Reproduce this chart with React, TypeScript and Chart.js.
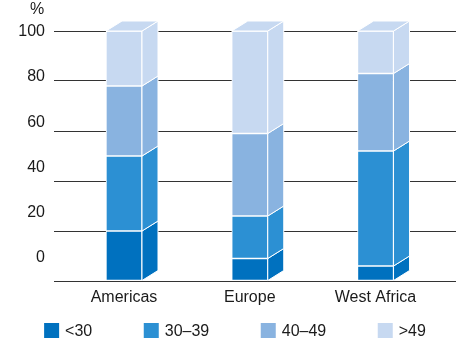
import React, { useEffect, useRef } from "react";
import { Chart, registerables } from "chart.js";

Chart.register(...registerables);

const categories = ["Americas", "Europe", "West Africa"];
const seriesLabels = ["<30", "30–39", "40–49", ">49"];
const under30 = [20, 9, 6];
const from30to39 = [30, 17, 46];
const from40to49 = [28, 33, 31];
const over49 = [22, 41, 17];
const seriesColors = ["#0071BF", "#2C90D3", "#89B3E0", "#C7D9F1"];
const yTicks = [0, 20, 40, 60, 80, 100];
const unitLabel = "%";

const FONT = "Arial, 'Liberation Sans', sans-serif";
const TEXT = "#1a1a1a";

const depthPlugin = {
  id: "depth3d",
  afterDatasetsDraw(chart: any) {
    const ctx = chart.ctx;
    const dx = 16;
    const dy = 10;
    const n = chart.data.datasets.length;
    ctx.save();
    ctx.strokeStyle = "#ffffff";
    ctx.lineWidth = 1;
    ctx.lineJoin = "miter";
    chart.data.datasets.forEach((ds: any, di: number) => {
      const meta = chart.getDatasetMeta(di);
      meta.data.forEach((bar: any) => {
        const { x, y, base, width } = bar.getProps(["x", "y", "base", "width"], true);
        const l = x - width / 2;
        const r = x + width / 2;
        const top = Math.min(y, base);
        const bottom = Math.max(y, base);
        ctx.fillStyle = ds.backgroundColor;
        ctx.beginPath();
        ctx.moveTo(r, bottom);
        ctx.lineTo(r + dx, bottom - dy);
        ctx.lineTo(r + dx, top - dy);
        ctx.lineTo(r, top);
        ctx.closePath();
        ctx.fill();
        ctx.stroke();
        if (di === n - 1) {
          ctx.beginPath();
          ctx.moveTo(l, top);
          ctx.lineTo(l + dx, top - dy);
          ctx.lineTo(r + dx, top - dy);
          ctx.lineTo(r, top);
          ctx.closePath();
          ctx.fill();
          ctx.stroke();
        }
      });
    });
    ctx.restore();
  },
};

const legendPlugin = {
  id: "boxLegend",
  afterDraw(chart: any) {
    const ctx = chart.ctx;
    ctx.save();
    ctx.font = "16px " + FONT;
    ctx.textBaseline = "middle";
    ctx.textAlign = "left";
    const box = 15;
    const gapText = 6;
    const gapItem = 51.5;
    const items = chart.data.datasets.map((ds: any) => ({
      text: ds.label,
      color: ds.backgroundColor,
      w: box + gapText + ctx.measureText(ds.label).width,
    }));
    const total = items.reduce((s: number, it: any) => s + it.w, 0) + gapItem * (items.length - 1);
    let x = chart.width / 2 + 3 - total / 2;
    const cy = chart.height - 10.5;
    items.forEach((it: any) => {
      ctx.fillStyle = it.color;
      ctx.fillRect(x, cy - box / 2, box, box);
      ctx.fillStyle = TEXT;
      ctx.fillText(it.text, x + box + gapText, cy + 1);
      x += it.w + gapItem;
    });
    const area = chart.chartArea;
    ctx.textAlign = "center";
    ctx.fillText(unitLabel, area.left - 17, area.top - 21);
    ctx.restore();
  },
};

export default function App() {
  const ref = useRef<HTMLCanvasElement>(null);
  useEffect(() => {
    document.body.style.margin = "0";
    const canvas = ref.current!;
    const chart = new Chart(canvas, {
      type: "bar",
      data: {
        datasets: [under30, from30to39, from40to49, over49].map((vals, si) => ({
          label: seriesLabels[si],
          data: vals.map((v, i) => ({ x: i, y: v })),
          backgroundColor: seriesColors[si],
          borderColor: "#ffffff",
          borderWidth: 1,
          borderSkipped: false,
          barThickness: 36,
        })),
      },
      options: {
        animation: false,
        responsive: false,
        devicePixelRatio: 1,
        layout: { padding: { top: 31, right: 8, bottom: 34, left: 12 } },
        plugins: { legend: { display: false }, tooltip: { enabled: false } },
        scales: {
          x: {
            type: "linear",
            stacked: true,
            offset: false,
            min: -0.5567,
            max: 2.64,
            grid: { display: false, drawTicks: false, offset: false },
            border: { display: false },
            afterBuildTicks: (axis: any) => {
              axis.ticks = categories.map((_, i) => ({ value: i }));
            },
            afterFit: (axis: any) => {
              axis.height = 26;
            },
            ticks: {
              padding: 7,
              color: TEXT,
              font: { family: FONT, size: 16 },
              maxRotation: 0,
              autoSkip: false,
              callback: (v: any) => categories[v] ?? "",
            },
          },
          y: {
            stacked: true,
            min: 0,
            max: 100,
            position: "left",
            grid: { color: "#333333", lineWidth: 1, drawTicks: false },
            border: { display: false },
            ticks: { display: false, stepSize: 20 },
            afterFit: (axis: any) => {
              axis.width = 0;
            },
          },
          yLabels: {
            type: "linear",
            position: "left",
            min: -10.16,
            max: 100.3,
            grid: { display: false, drawTicks: false },
            border: { display: false },
            afterBuildTicks: (axis: any) => {
              axis.ticks = yTicks.map((v) => ({ value: v }));
            },
            afterFit: (axis: any) => {
              axis.width = 42;
            },
            ticks: {
              padding: 9,
              color: TEXT,
              font: { family: FONT, size: 16 },
            },
          },
        },
      },
      plugins: [depthPlugin, legendPlugin],
    } as any);
    return () => chart.destroy();
  }, []);
  return <canvas ref={ref} width={464} height={341} style={{ display: "block" }} />;
}
